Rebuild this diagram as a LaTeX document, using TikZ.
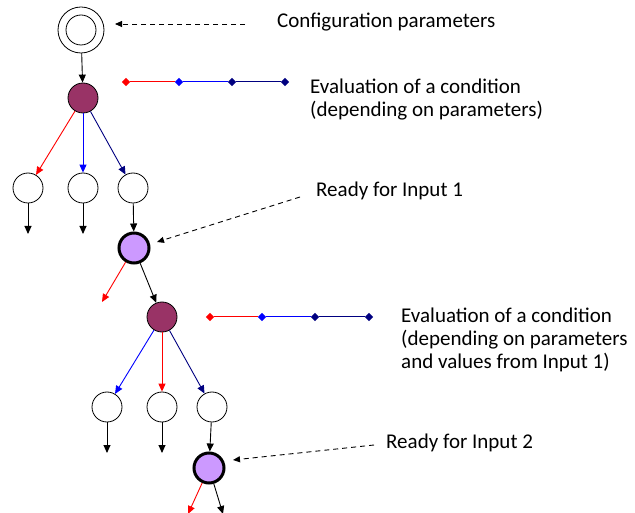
\documentclass[tikz,border=0pt]{standalone}
\usepackage{fontspec}
\setmainfont{Carlito}
\usetikzlibrary{arrows.meta,shapes.geometric}
\definecolor{maroon}{HTML}{993366}
\definecolor{lilac}{HTML}{CC99FF}
\definecolor{navyb}{HTML}{000080}
\definecolor{redb}{HTML}{FF0000}
\definecolor{blueb}{HTML}{0000FF}
\tikzset{
  st/.style={circle,draw,line width=0.8pt,minimum size=30pt,inner sep=0pt},
  cond/.style={st,fill=maroon},
  ready/.style={circle,draw,line width=3pt,fill=lilac,minimum size=30pt,inner sep=0pt},
  arr/.style={line width=0.9pt,-{Triangle[length=8pt,width=7pt]}},
  darr/.style={line width=0.9pt,dash pattern=on 5pt off 4pt,-{Triangle[length=7pt,width=6pt]}},
  dm/.style={diamond,fill=#1,inner sep=0pt,minimum size=8.5pt},
  seg/.style={line width=1pt,draw=#1},
  lbl/.style={anchor=west,align=left,font=\fontsize{21}{23}\selectfont,inner sep=0pt}
}
\begin{document}
\begin{tikzpicture}[x=1pt,y=-1pt]
\useasboundingbox (0,0) rectangle (635,513);
% top configuration node
\node[circle,draw,line width=0.8pt,minimum size=46pt,inner sep=0pt] (top) at (81,30) {};
\node[circle,draw,line width=0.8pt,minimum size=30pt,inner sep=0pt] (topin) at (81,30) {};
\node[lbl] (tconf) at (277,22) {Configuration parameters};
\coordinate (cfrom) at (245,24);
\coordinate (cto) at (115,24);
\draw[darr] (cfrom) -- (cto);
% first condition
\node[cond] (c1) at (83,98) {};
\draw[arr] (top) -- (c1);
\node[dm=redb] (a1) at (126,82) {};
\node[dm=blueb] (a2) at (179,82) {};
\node[dm=navyb] (a3) at (232,82) {};
\node[dm=navyb] (a4) at (285,82) {};
\draw[seg=redb] (a1) -- (a2);
\draw[seg=blueb] (a2) -- (a3);
\draw[seg=navyb] (a3) -- (a4);
\node[lbl] (tev1) at (310,100) {Evaluation of a condition\\(depending on parameters)};
% children 1
\node[st] (k1) at (28,188) {};
\node[st] (k2) at (83,188) {};
\node[st] (k3) at (133,188) {};
\draw[arr,redb] (c1) -- (k1);
\draw[arr,blueb] (c1) -- (k2);
\draw[arr,navyb] (c1) -- (k3);
\coordinate (e1) at (28,234);
\coordinate (e2) at (83,234);
\draw[arr] (k1) -- (e1);
\draw[arr] (k2) -- (e2);
% ready 1
\node[ready] (r1) at (134,248) {};
\draw[arr] (k3) -- (r1);
\node[lbl] (tr1) at (316,191) {Ready for Input 1};
\coordinate (r1from) at (300,197);
\coordinate (r1to) at (157,242);
\draw[darr] (r1from) -- (r1to);
\coordinate (e3) at (102,302);
\draw[arr,redb] (r1) -- (e3);
% second condition
\node[cond] (c2) at (162,317) {};
\draw[arr] (r1) -- (c2);
\node[dm=redb] (b1) at (210,317) {};
\node[dm=blueb] (b2) at (262,317) {};
\node[dm=navyb] (b3) at (315,317) {};
\node[dm=navyb] (b4) at (369,317) {};
\draw[seg=redb] (b1) -- (b2);
\draw[seg=blueb] (b2) -- (b3);
\draw[seg=navyb] (b3) -- (b4);
\node[lbl] (tev2) at (401,340) {Evaluation of a condition\\(depending on parameters\\and values from Input 1)};
% children 2
\node[st] (m1) at (107,407) {};
\node[st] (m2) at (162,407) {};
\node[st] (m3) at (212,407) {};
\draw[arr,blueb] (c2) -- (m1);
\draw[arr,redb] (c2) -- (m2);
\draw[arr,navyb] (c2) -- (m3);
\coordinate (f1) at (107,453);
\coordinate (f2) at (162,453);
\draw[arr] (m1) -- (f1);
\draw[arr] (m2) -- (f2);
% ready 2
\node[ready] (r2) at (209,468) {};
\draw[arr] (m3) -- (r2);
\node[lbl] (tr2) at (386,443) {Ready for Input 2};
\coordinate (r2from) at (374,445);
\coordinate (r2to) at (233,460);
\draw[darr] (r2from) -- (r2to);
\coordinate (g1) at (188,514);
\coordinate (g2) at (223,514);
\draw[arr,redb] (r2) -- (g1);
\draw[arr] (r2) -- (g2);
\end{tikzpicture}
\end{document}
